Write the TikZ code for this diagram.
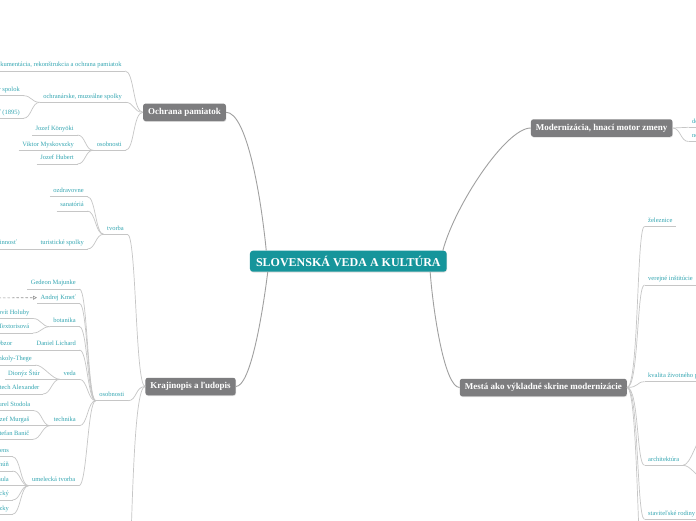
\documentclass[tikz,border=0pt]{standalone}
\usepackage{fontspec}
\setmainfont{Liberation Serif}
\usetikzlibrary{arrows.meta,shadows}
\definecolor{tealtxt}{RGB}{52,166,178}
\definecolor{linec}{RGB}{198,198,198}
\definecolor{mainline}{RGB}{160,160,160}
\definecolor{boxgray}{RGB}{125,125,127}
\definecolor{centerteal}{RGB}{22,149,155}
\tikzset{
  leaf/.style={font=\fontsize{6.5}{7}\selectfont, text=tealtxt, inner xsep=3.5pt, inner ysep=2.4pt,
    text height=4.8pt, text depth=1.6pt,
    append after command={(\tikzlastnode.south west) edge[draw=linec, line width=0.7pt] (\tikzlastnode.south east)}},
  lleaf/.style={leaf, anchor=south east},
  rleaf/.style={leaf, anchor=south west},
  mainbox/.style={fill=boxgray, rounded corners=2.5pt, text=white,
    font=\bfseries\fontsize{9}{10}\selectfont, inner xsep=5pt, inner ysep=0pt, minimum height=17.5pt,
    drop shadow={opacity=0.25, shadow xshift=0.4pt, shadow yshift=-0.8pt}},
  centerbox/.style={fill=centerteal, rounded corners=3pt, text=white,
    font=\bfseries\fontsize{12}{13}\selectfont, inner sep=0pt, minimum width=196.7pt, minimum height=21pt,
    drop shadow={opacity=0.25, shadow xshift=0.4pt, shadow yshift=-0.8pt}},
  conn/.style={draw=linec, line width=0.7pt},
  mconn/.style={draw=mainline, line width=0.9pt},
}
\newcommand\LeftLink[3][8]{\draw[conn] (#2.south west) .. controls +(-#1,0) and +(#1,0) .. (#3.south east);}
\newcommand\MainLeft[2]{\draw[conn] (#1.west) .. controls +(-10,0) and +(9,0) .. (#2.south east);}
\newcommand\MainRight[2]{\draw[conn] (#1.east) .. controls +(12,0) and +(-8,0) .. (#2.south west);}
\begin{document}
\begin{tikzpicture}[x=1pt,y=-1pt]
\fill[white] (0,0) rectangle (696,520);
\useasboundingbox (0,0) rectangle (696,520);

% main nodes
\node[centerbox] (central) at (348.3,261.2) {SLOVENSKÁ VEDA A KULTÚRA};
\node[mainbox] (ochrana) at (184.5,112.3) {Ochrana pamiatok};
\node[mainbox] (kraj) at (190.5,386.5) {Krajinopis a ľudopis};
\node[mainbox] (modern) at (601.7,128) {Modernizácia, hnací motor zmeny};
\node[mainbox] (mesta) at (543.3,387.5) {Mestá ako výkladné skrine modernizácie};

% Ochrana pamiatok
\node[lleaf] (dok) at (125.2,71) {dokumentácia, rekonštrukcia a ochrana pamiatok};
\node[lleaf] (spolky) at (125.5,102.3) {ochranárske, muzeálne spolky};
\node[lleaf] (spolok) at (23.5,95.7) {Slovenský muzeálny spolok};
\node[lleaf] (spolv) at (23.5,118.3) {Muzeálna slovenská spoločnosť (1895)};
\node[lleaf] (osobA) at (125.5,150.3) {osobnosti};
\node[lleaf] (konyoki) at (77.5,135) {Jozef Könyöki};
\node[lleaf] (mysk) at (77.5,150.3) {Viktor Myskovszky};
\node[lleaf] (hubert) at (77.5,164) {Jozef Hubert};

% Krajinopis a ľudopis
\node[lleaf] (tvorba) at (127.5,234.3) {tvorba};
\node[lleaf] (ozdrav) at (87.5,196.7) {ozdravovne};
\node[lleaf] (sanat) at (87.5,211) {sanatóriá};
\node[lleaf] (turist) at (87.5,249) {turistické spolky};
\node[lleaf] (cinnost) at (20.5,249) {osvetová činnosť};
\node[lleaf] (osobB) at (128,400.7) {osobnosti};
\node[lleaf] (majunke) at (79.5,289) {Gedeon Majunke};
\node[lleaf] (kmet) at (79.5,303.5) {Andrej Kmeť};
\node[lleaf] (botan) at (79.5,326.7) {botanika};
\node[lleaf] (holuby) at (33,318.5) {Jozef Ľudovít Holuby};
\node[lleaf] (textor) at (33,333) {Izabela Textorisová};
\node[lleaf] (lichard) at (79.5,350) {Daniel Lichard};
\node[lleaf] (obzor) at (16,350) {Obzor};
\node[lleaf] (veda) at (79.5,379.3) {veda};
\node[lleaf] (konkoly) at (35.5,365) {Mikuláš Konkoly-Thege};
\node[lleaf] (stur) at (43.5,379.3) {Dionýz Štúr};
\node[lleaf] (alex) at (43,394) {Vojtech Alexander};
\node[lleaf] (technika) at (79.5,425.7) {technika};
\node[lleaf] (stodola) at (34,410.7) {Aurel Stodola};
\node[lleaf] (murgas) at (33,425.7) {Jozef Murgaš};
\node[lleaf] (banic) at (33,439.3) {Štefan Banič};
\node[lleaf] (umel) at (79,485.7) {umelecká tvorba};
\node[lleaf] (artA) at (12.5,456.7) {Jozef Božetech Klemens};
\node[lleaf] (artB) at (12.5,471) {Peter Michal Bohúň};
\node[lleaf] (artC) at (12.5,485.7) {Jozef Hanula};
\node[lleaf] (artD) at (12.5,500) {Dominik Skutecký};
\node[lleaf] (artE) at (12.5,514.3) {Ladislav Mednyánszky};
\coordinate (krajoff) at (128,640);
\coordinate (kmetsrc) at (-15,297.9);

% right side
\node[rleaf] (zel) at (644.5,226.3) {železnice};
\node[rleaf] (verej) at (644.5,285) {verejné inštitúcie};
\node[rleaf] (kvalita) at (644.5,381.7) {kvalita životného prostredia};
\node[rleaf] (arch) at (644.5,465.3) {architektúra};
\node[rleaf] (stav) at (644.5,519.3) {staviteľské rodiny};
\node[rleaf] (dopr) at (688.5,127.3) {doprava};
\node[rleaf] (nove) at (688.5,141.5) {nové technológie};
\coordinate (mestaoff) at (645,600);
\coordinate (archA) at (703,437);
\coordinate (archB) at (703,478);

% central connectors
\draw[mconn] (ochrana.east) .. controls +(20,0) and +(-6,-60) .. ([xshift=16.5pt]central.north west);
\draw[mconn] (kraj.east) .. controls +(15,0) and +(-5,40) .. ([xshift=18pt]central.south west);
\draw[mconn] (modern.west) .. controls +(-25,0) and +(12,-45) .. ([xshift=-4pt]central.north east);
\draw[mconn] (mesta.west) .. controls +(-15,0) and +(3,40) .. ([xshift=-16.7pt]central.south east);

% Ochrana links
\MainLeft{ochrana}{dok}
\MainLeft{ochrana}{spolky}
\MainLeft{ochrana}{osobA}
\LeftLink{spolky}{spolok}
\LeftLink{spolky}{spolv}
\LeftLink{osobA}{konyoki}
\LeftLink{osobA}{mysk}
\LeftLink{osobA}{hubert}

% Krajinopis links
\MainLeft{kraj}{tvorba}
\MainLeft{kraj}{osobB}
\draw[conn] (kraj.west) .. controls +(-12,0) and +(4,-120) .. (krajoff);
\LeftLink{tvorba}{ozdrav}
\LeftLink{tvorba}{sanat}
\LeftLink{tvorba}{turist}
\LeftLink{turist}{cinnost}
\LeftLink{osobB}{majunke}
\LeftLink{osobB}{kmet}
\LeftLink{osobB}{botan}
\LeftLink{osobB}{lichard}
\LeftLink{osobB}{veda}
\LeftLink{osobB}{technika}
\LeftLink{osobB}{umel}
\LeftLink{botan}{holuby}
\LeftLink{botan}{textor}
\LeftLink{lichard}{obzor}
\LeftLink{veda}{konkoly}
\LeftLink{veda}{stur}
\LeftLink{veda}{alex}
\LeftLink{technika}{stodola}
\LeftLink{technika}{murgas}
\LeftLink{technika}{banic}
\LeftLink{umel}{artA}
\LeftLink{umel}{artB}
\LeftLink{umel}{artC}
\LeftLink{umel}{artD}
\LeftLink{umel}{artE}
\draw[draw=gray!85, line width=0.6pt, dash pattern=on 2.5pt off 2pt,
  -{Triangle[open,length=4pt,width=4pt]}] (kmetsrc) -- (kmet.west);

% right links
\MainRight{mesta}{zel}
\MainRight{mesta}{verej}
\MainRight{mesta}{kvalita}
\MainRight{mesta}{arch}
\MainRight{mesta}{stav}
\draw[conn] (mesta.east) .. controls +(12,0) and +(-8,0) .. (mestaoff);
\draw[conn] (arch.south east) .. controls +(8,0) and +(-6,0) .. (archA);
\draw[conn] (arch.south east) .. controls +(8,0) and +(-6,0) .. (archB);
\draw[conn] (modern.east) .. controls +(8,0) and +(-8,0) .. (dopr.south west);
\draw[conn] (modern.east) .. controls +(8,0) and +(-8,0) .. (nove.south west);
\end{tikzpicture}
\end{document}
